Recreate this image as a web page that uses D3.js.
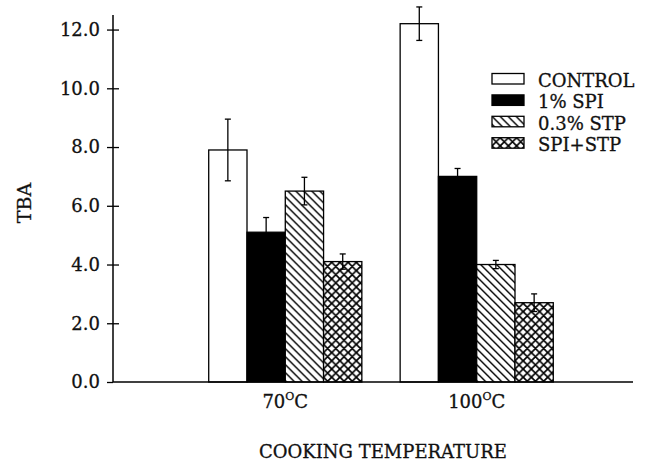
<!DOCTYPE html>
<html>
<head>
<meta charset="utf-8">
<script src="https://cdn.jsdelivr.net/npm/d3@7"></script>
<style>
  html, body { margin: 0; padding: 0; background: #fff; }
  svg { display: block; }
  text { font-family: "DejaVu Serif", "Liberation Serif", serif; fill: #111; stroke: #111; stroke-width: 0.3px; }
</style>
</head>
<body>
<svg id="chart" width="648" height="464"></svg>
<script>
// Cooking temperatures (°C) on the x axis
const temperatures = ["70", "100"];

// Treatment series, one entry per temperature
const seriesNames = ["CONTROL", "1% SPI", "0.3% STP", "SPI+STP"];
const controlValues = [7.9, 12.2];
const controlErrors = [1.05, 0.57];
const spiValues = [5.1, 7.0];
const spiErrors = [0.5, 0.27];
const stpValues = [6.5, 4.0];
const stpErrors = [0.47, 0.14];
const spiStpValues = [4.1, 2.7];
const spiStpErrors = [0.26, 0.3];

const yTicks = [0, 2, 4, 6, 8, 10, 12];
const yLabel = "TBA";
const xLabel = "COOKING TEMPERATURE";

const seriesValues = [controlValues, spiValues, stpValues, spiStpValues];
const seriesErrors = [controlErrors, spiErrors, stpErrors, spiStpErrors];
const fills = ["#fff", "#000", "url(#diag)", "url(#cross)"];

const svg = d3.select("#chart");

// Hatch patterns
const defs = svg.append("defs");
const diag = defs.append("pattern")
  .attr("id", "diag").attr("patternUnits", "userSpaceOnUse")
  .attr("width", 8).attr("height", 8);
diag.append("rect").attr("width", 8).attr("height", 8).attr("fill", "#fff");
diag.append("path")
  .attr("d", "M-2,-2 L10,10 M-2,6 L2,10 M6,-2 L10,2")
  .attr("stroke", "#000").attr("stroke-width", 1.4);

const cs = 8.2;
const cross = defs.append("pattern")
  .attr("id", "cross").attr("patternUnits", "userSpaceOnUse")
  .attr("width", cs).attr("height", cs);
cross.append("rect").attr("width", cs).attr("height", cs).attr("fill", "#fff");
cross.append("path")
  .attr("d", `M-2,-2 L${cs + 2},${cs + 2} M-2,${cs - 2} L2,${cs + 2} M${cs - 2},-2 L${cs + 2},2 ` +
             `M-2,${cs + 2} L${cs + 2},-2 M-2,2 L2,-2 M${cs - 2},${cs + 2} L${cs + 2},${cs - 2}`)
  .attr("stroke", "#000").attr("stroke-width", 1.7);

// Plot frame
const left = 113, bottom = 382, right = 633;
const y = d3.scaleLinear().domain([0, 12.5]).range([bottom, bottom - 12.5 * 29.37]);
const x0 = d3.scaleBand().domain(temperatures).range([left, 649])
  .paddingInner(0.2).paddingOuter(0.5);
const x1 = d3.scaleBand().domain(seriesNames).range([0, x0.bandwidth()]);

// Bars
const groups = svg.append("g").selectAll("g")
  .data(temperatures).join("g")
  .attr("transform", d => `translate(${x0(d)},0)`);

const rows = (t, i) => seriesNames.map((s, k) => ({ s, k, v: seriesValues[k][i], e: seriesErrors[k][i] }));

groups.selectAll("rect")
  .data(rows)
  .join("rect")
  .attr("x", d => x1(d.s))
  .attr("width", x1.bandwidth())
  .attr("y", d => y(d.v))
  .attr("height", d => y(0) - y(d.v))
  .attr("fill", d => fills[d.k])
  .attr("stroke", "#000").attr("stroke-width", 1.3);

// Error bars
const eb = groups.selectAll("g.err")
  .data(rows)
  .join("g").attr("class", "err")
  .attr("stroke", "#000")
  .attr("stroke-width", 1.3);
const cx = d => x1(d.s) + x1.bandwidth() / 2;
eb.append("line")
  .attr("x1", cx).attr("x2", cx)
  .attr("y1", d => y(d.v + d.e)).attr("y2", d => y(d.v - d.e));
eb.append("line")
  .attr("x1", d => cx(d) - 3).attr("x2", d => cx(d) + 3)
  .attr("y1", d => y(d.v + d.e)).attr("y2", d => y(d.v + d.e));
eb.append("line")
  .attr("x1", d => cx(d) - 3).attr("x2", d => cx(d) + 3)
  .attr("y1", d => y(d.v - d.e)).attr("y2", d => y(d.v - d.e));

// Y axis with ticks crossing the axis line
const yAxis = svg.append("g")
  .attr("transform", `translate(${left},0)`)
  .call(d3.axisLeft(y).tickValues(yTicks).tickFormat(d3.format(".1f")).tickSize(6).tickPadding(7));
yAxis.select(".domain").remove();
yAxis.append("line")
  .attr("x1", 0).attr("x2", 0)
  .attr("y1", y(12.5)).attr("y2", y(0))
  .attr("stroke", "#000").attr("stroke-width", 1.5);
yAxis.selectAll(".tick").filter(d => d > 0).append("line")
  .attr("x1", 0).attr("x2", 6).attr("stroke", "#000").attr("stroke-width", 1.3);
yAxis.selectAll(".tick line").attr("stroke-width", 1.3);
yAxis.selectAll(".tick text")
  .attr("font-family", "DejaVu Serif").attr("font-size", 18).attr("fill", "#111");

// X axis line
svg.append("line")
  .attr("x1", left).attr("x2", right)
  .attr("y1", y(0)).attr("y2", y(0))
  .attr("stroke", "#000").attr("stroke-width", 1.5);

// Category labels with superscript degree mark
const xl = svg.append("g").selectAll("text")
  .data(temperatures).join("text")
  .attr("x", d => x0(d) + x0.bandwidth() / 2)
  .attr("y", 408)
  .attr("text-anchor", "middle")
  .attr("font-size", 18);
xl.append("tspan").text(d => d);
xl.append("tspan").attr("font-size", 11).attr("dy", -8).text("O");
xl.append("tspan").attr("dy", 8).text("C");

// Axis titles
svg.append("text")
  .attr("x", 383).attr("y", 458)
  .attr("text-anchor", "middle").attr("font-size", 18)
  .text(xLabel);
svg.append("text")
  .attr("transform", "translate(31,203) rotate(-90)")
  .attr("text-anchor", "middle").attr("font-size", 19)
  .text(yLabel);

// Legend
const legend = svg.append("g").attr("transform", "translate(492,73.5)");
const li = legend.selectAll("g").data(seriesNames).join("g")
  .attr("transform", (d, i) => `translate(0,${i * 21.4})`);
li.append("rect")
  .attr("width", 32).attr("height", 10.5)
  .attr("fill", (d, i) => fills[i])
  .attr("stroke", "#000").attr("stroke-width", 1.3);
li.append("text")
  .attr("x", 46).attr("y", 13.5)
  .attr("font-size", 18)
  .text(d => d);
</script>
</body>
</html>
